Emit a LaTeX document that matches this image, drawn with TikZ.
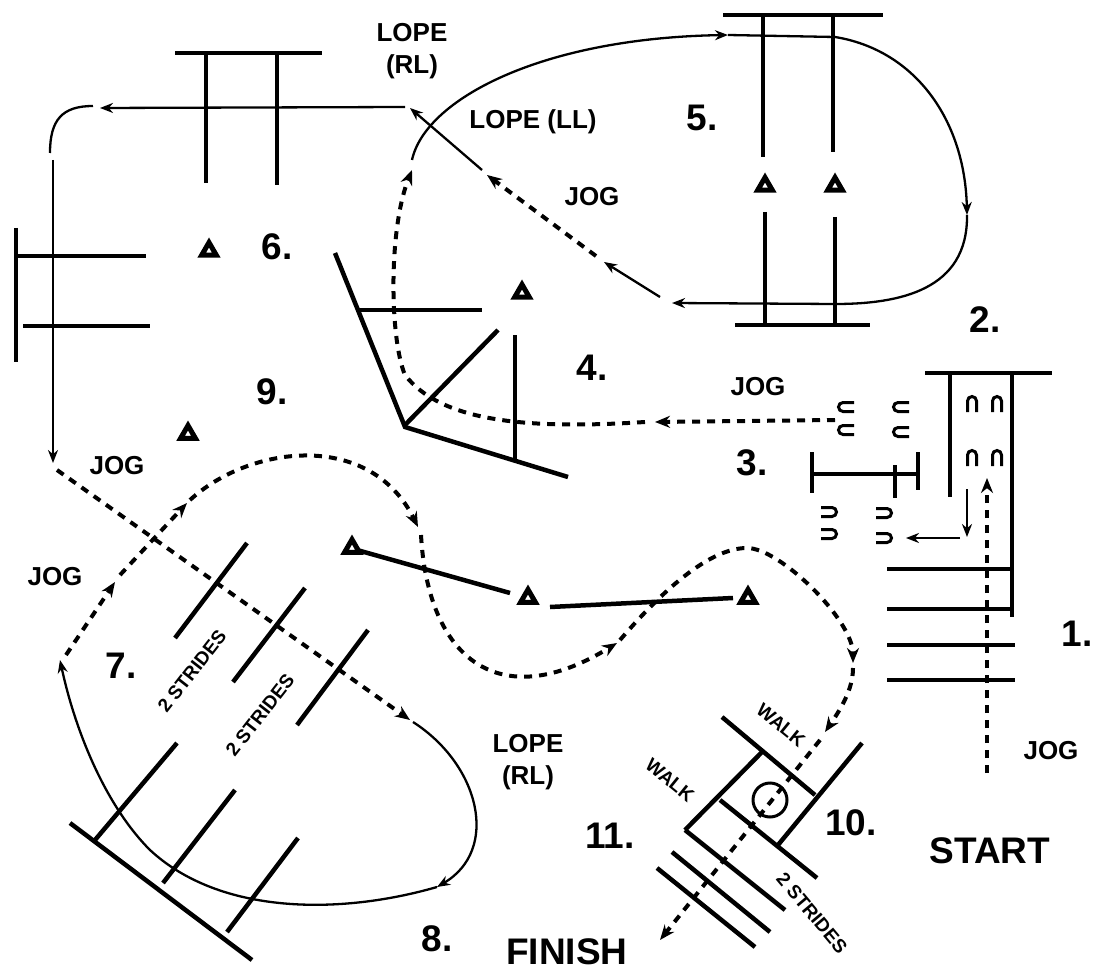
\documentclass[tikz,border=0pt]{standalone}
\usepackage{fontspec}
\setmainfont{Liberation Sans}
\usetikzlibrary{arrows.meta,shapes.geometric}
\tikzset{
  archmark/.pic={\draw[line width=3pt] (-4.5pt,-9pt) -- (-4.5pt,2pt) arc[start angle=180,end angle=0,radius=4.5pt] -- (4.5pt,-9pt);}
}
\begin{document}
\begin{tikzpicture}[x=1pt,y=-1pt,
  pole/.style={line width=4.5pt},
  thinline/.style={line width=2.3pt},
  dsh/.style={line width=4pt, dash pattern=on 8pt off 7pt},
  tip/.style={-{Stealth[length=13pt,width=10pt]}},
  dtip/.style={-{Stealth[length=15pt,width=12pt]}},
  tri/.style={regular polygon, regular polygon sides=3, draw, line width=5pt, fill=white, line join=miter, minimum size=17pt, inner sep=0pt},
  num/.style={font=\bfseries\fontsize{37}{40}\selectfont, inner sep=0pt},
  lbl/.style={font=\bfseries\fontsize{26}{32}\selectfont, inner sep=0pt, align=center},
  sml/.style={font=\bfseries\fontsize{19}{22}\selectfont, inner sep=0pt},
]
\useasboundingbox (0,0) rectangle (1094,973);

% ---------- obstacle 1/2 (box with rails) ----------
\draw[pole] (925,373) -- (1052,373);
\draw[pole] (950,373) -- (950,497);
\draw[pole] (1012,373) -- (1012,617);
\draw[pole] (887,569) -- (1012,569);
\draw[pole] (887,609) -- (1012,609);
\draw[pole] (887,645) -- (1015,645);
\draw[pole] (887,680) -- (1015,680);
\pic at (972,403) {archmark};
\pic at (997,403) {archmark};
\pic at (972,457) {archmark};
\pic at (997,457) {archmark};

% ---------- obstacle 3 ----------
\draw[pole] (812,474) -- (918,474);
\draw[pole] (812,452) -- (812,493);
\draw[pole] (918,452) -- (918,490);
\draw[pole] (895,465) -- (895,498);
\pic[rotate=90] at (845,407) {archmark};
\pic[rotate=90] at (845,430) {archmark};
\pic[rotate=90] at (900,407) {archmark};
\pic[rotate=90] at (900,432) {archmark};
\pic[rotate=-90] at (830,512) {archmark};
\pic[rotate=-90] at (830,534) {archmark};
\pic[rotate=-90] at (885,513) {archmark};
\pic[rotate=-90] at (885,538) {archmark};

% ---------- obstacle 4 ----------
\draw[pole] (335,253) -- (405,427) -- (568,477);
\draw[pole] (358,310) -- (482,310);
\draw[pole] (405,425) -- (498,330);
\draw[pole] (515,335) -- (515,460);

% ---------- obstacle 5 ----------
\draw[pole] (723,15) -- (883,15);
\draw[pole] (763,15) -- (763,157);
\draw[pole] (833,15) -- (833,152);
\draw[pole] (765,212) -- (765,325);
\draw[pole] (835,217) -- (835,325);
\draw[pole] (735,325) -- (870,325);

% ---------- obstacle 6 ----------
\draw[pole] (175,53) -- (322,53);
\draw[pole] (206,53) -- (206,183);
\draw[pole] (277,53) -- (277,185);
\draw[pole] (16,228) -- (16,362);
\draw[pole] (16,256) -- (146,256);
\draw[pole] (23,326) -- (150,326);

% ---------- obstacle 7 ----------
\draw[pole] (175,638) -- (247,543);
\draw[pole] (233,682) -- (305,588);
\draw[pole] (297,725) -- (368,630);

% ---------- obstacle 8 (bottom left) ----------
\draw[pole] (70,823) -- (252,960);
\draw[pole] (95,840) -- (177,743);
\draw[pole] (163,883) -- (235,790);
\draw[pole] (227,932) -- (298,838);

% ---------- middle lines with cones ----------
\draw[pole] (357,550) -- (510,593);
\draw[pole] (550,607) -- (733,598);

% ---------- obstacle 10/11 ----------
\draw[pole] (722,717) -- (815,795);
\draw[pole] (685,830) -- (762,752);
\draw[pole] (720,800) -- (817,878);
\draw[pole] (778,845) -- (862,743);
\draw[pole] (685,830) -- (785,910);
\draw[pole] (672,852) -- (770,932);
\draw[pole] (657,868) -- (755,947);
\draw[line width=3pt] (770,800) circle[radius=17];

% ---------- cones ----------
\node[tri] (t5a) at (765,186) {};
\node[tri] (t5b) at (835,186) {};
\node[tri] (t6) at (209,251) {};
\node[tri] (t9) at (188,434) {};
\node[tri] (t4) at (522,293) {};
\node[tri] (tl1) at (352,548) {};
\node[tri] (tl2) at (528,598) {};
\node[tri] (tl3) at (748,598) {};

% ---------- route ----------
\draw[dsh,dtip] (987,773) -- (987,478);
\draw[thinline,tip] (967,489) -- (967,537);
\draw[thinline,tip] (960,538) -- (906,538);
\draw[dsh,dtip] (835,420) -- (655,422);
\draw[dsh,dtip] (645,422) .. controls (520,430) and (440,420) .. (405,375) .. controls (390,340) and (388,230) .. (412,170);
\draw[thinline,tip] (412,160) .. controls (425,100) and (540,38) .. (728,35);
\draw[thinline,tip] (728,35) -- (835,37) .. controls (915,50) and (965,120) .. (967,215);
\draw[thinline,tip] (967,215) .. controls (968,290) and (900,304) .. (835,304) -- (672,303);
\draw[thinline,tip] (660,297) -- (604,262);
\draw[dsh,dtip] (596,256) -- (487,175);
\draw[thinline,tip] (482,170) -- (410,108);
\draw[thinline,tip] (405,107) -- (100,108);
\draw[thinline] (93,106) .. controls (62,106) and (50,120) .. (50,153);
\draw[thinline,tip] (53,160) -- (53,463);
\draw[dsh,dtip] (57,470) -- (410,720);
\draw[thinline,tip] (413,722) .. controls (480,765) and (500,850) .. (437,887);
\draw[thinline,tip] (437,887) .. controls (340,915) and (220,915) .. (150,850) .. controls (105,805) and (75,730) .. (60,660);
\draw[dsh,dtip] (66,655) -- (115,582);
\draw[dsh,dtip] (120,575) -- (187,503);
\draw[dsh,dtip] (190,500) .. controls (250,445) and (370,430) .. (418,527);
\draw[dsh,dtip] (421,535) .. controls (428,660) and (500,715) .. (617,643);
\draw[dsh,dtip] (620,640) .. controls (680,570) and (720,548) .. (747,548) .. controls (780,548) and (853,620) .. (853,663);
\draw[dsh,dtip] (853,668) .. controls (853,690) and (840,710) .. (825,732);
\draw[dsh,dtip] (820,740) -- (660,940);

% ---------- labels ----------
\node[lbl] (loperl1) at (412,51) {LOPE\\(RL)};
\node[lbl] (lopell) at (533,122) {LOPE (LL)};
\node[num] (n5) at (702,118) {5.};
\node[lbl] (jog1) at (592,197) {JOG};
\node[num] (n6) at (277,247) {6.};
\node[num] (n9) at (272,392) {9.};
\node[num] (n4) at (592,368) {4.};
\node[num] (n2) at (985,320) {2.};
\node[lbl] (jog2) at (758,387) {JOG};
\node[num] (n3) at (752,463) {3.};
\node[num] (n1) at (1077,634) {1.};
\node[lbl] (jog3) at (1051,751) {JOG};
\node[num] (start) at (990,851) {START};
\node[num] (n10) at (851,823) {10.};
\node[num] (n11) at (610,836) {11.};
\node[num] (finish) at (567,952) {FINISH};
\node[num] (n8) at (437,939) {8.};
\node[num] (n7) at (121,666) {7.};
\node[lbl] (jog4) at (117,466) {JOG};
\node[lbl] (jog5) at (55,577) {JOG};
\node[lbl] (loperl2) at (528,762) {LOPE\\(RL)};
\node[sml,rotate=52] (s1) at (192,671) {2 STRIDES};
\node[sml,rotate=52] (s2) at (260,715) {2 STRIDES};
\node[sml,rotate=-50] (s3) at (812,913) {2 STRIDES};
\node[sml,rotate=-39] (w1) at (781,725) {WALK};
\node[sml,rotate=-39] (w2) at (670,780) {WALK};
\end{tikzpicture}
\end{document}
